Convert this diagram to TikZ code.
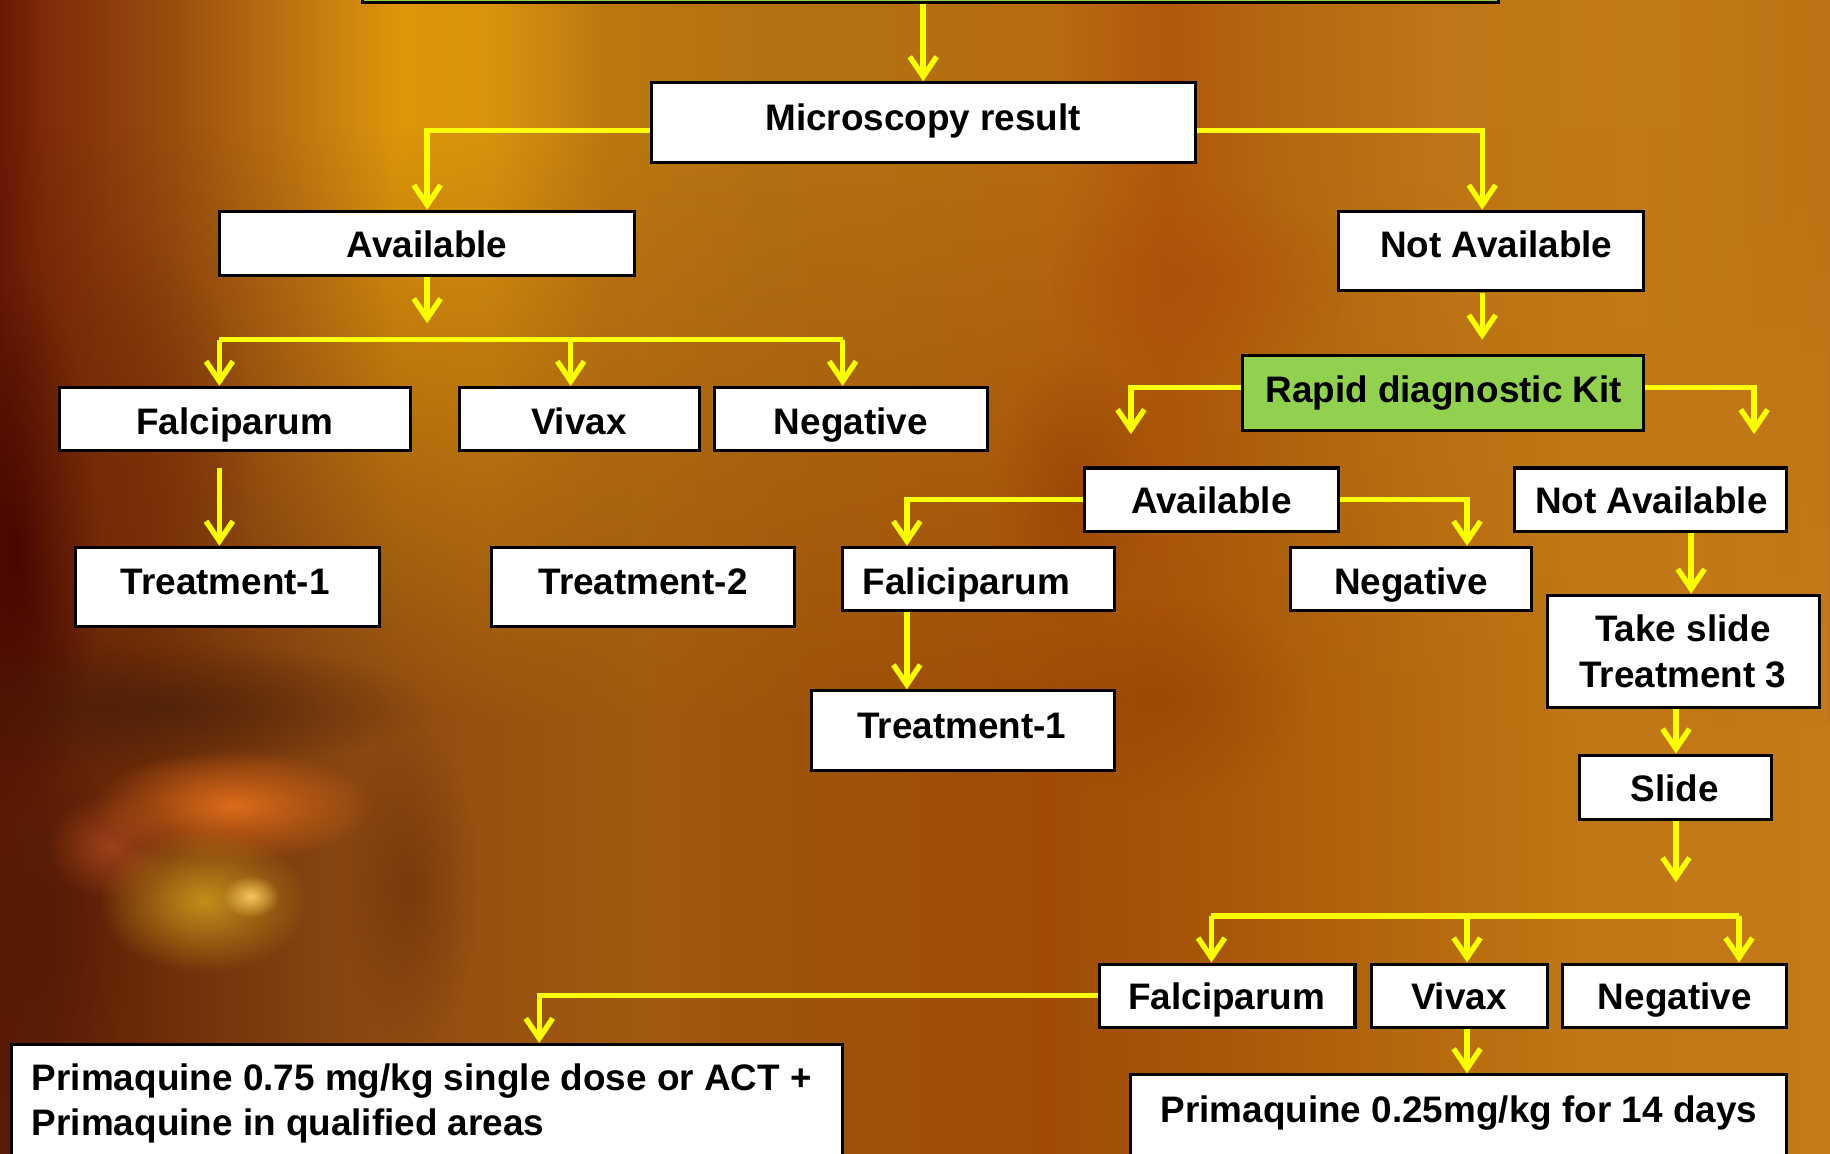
\documentclass[tikz,border=0pt]{standalone}
\usepackage{fontspec}
\setmainfont{Liberation Sans}
\usetikzlibrary{arrows.meta,calc,fit,fadings}
\definecolor{ay}{HTML}{FFFF00}
\definecolor{kgreen}{HTML}{92D050}
% upper background colours
\definecolor{c0}{HTML}{6A1804}
\definecolor{c1}{HTML}{7E2C08}
\definecolor{c2}{HTML}{9A4E0E}
\definecolor{c3}{HTML}{C07810}
\definecolor{c4}{HTML}{DC960A}
\definecolor{c5}{HTML}{D8940C}
\definecolor{c6}{HTML}{BC7810}
\definecolor{c7}{HTML}{B47212}
\definecolor{c8}{HTML}{B47010}
\definecolor{c9}{HTML}{B86C10}
\definecolor{c10}{HTML}{B0580C}
\definecolor{c11}{HTML}{B46A10}
\definecolor{c12}{HTML}{BE7616}
\definecolor{c13}{HTML}{C07A16}
\definecolor{c14}{HTML}{BC7414}
% lower background colours
\definecolor{d0}{HTML}{5A1A05}
\definecolor{d1}{HTML}{6A2A08}
\definecolor{d2}{HTML}{864410}
\definecolor{d3}{HTML}{965010}
\definecolor{d4}{HTML}{A05A0E}
\definecolor{d5}{HTML}{9E520A}
\definecolor{d6}{HTML}{A04C08}
\definecolor{d7}{HTML}{A85808}
\definecolor{d8}{HTML}{B4680C}
\definecolor{d9}{HTML}{C07614}
\definecolor{d10}{HTML}{C47A18}
\pgfdeclarehorizontalshading{upbg}{100bp}{color(0bp)=(c0); color(25bp)=(c0); color(26.28bp)=(c1); color(29.78bp)=(c2); color(33.29bp)=(c3); color(35.84bp)=(c4); color(38.39bp)=(c5); color(41.58bp)=(c6); color(45.73bp)=(c7); color(50.51bp)=(c8); color(53.70bp)=(c9); color(56.89bp)=(c10); color(60.08bp)=(c11); color(64.22bp)=(c12); color(69.64bp)=(c13); color(75bp)=(c14); color(100bp)=(c14)}
\pgfdeclarehorizontalshading{lowbg}{100bp}{color(0bp)=(d0); color(25bp)=(d0); color(28.83bp)=(d1); color(33.93bp)=(d2); color(37.76bp)=(d3); color(42.54bp)=(d4); color(47.32bp)=(d5); color(53.70bp)=(d6); color(58.48bp)=(d7); color(63.27bp)=(d8); color(68.05bp)=(d9); color(75bp)=(d10); color(100bp)=(d10)}
\tikzfading[name=softblob, inner color=transparent!0, outer color=transparent!100]
\tikzfading[name=fadedown, top color=transparent!100, bottom color=transparent!0]
\tikzset{
  box/.style={draw=black, line width=1.3pt, fill=white, inner sep=0pt, rectangle},
  gbox/.style={box, fill=kgreen},
  lbl/.style={font=\bfseries\fontsize{15.8}{19.5}\selectfont, inner sep=0pt, anchor=base},
  lblw/.style={lbl, anchor=base west},
  arr/.style={draw=ay, line width=2.3pt, -{Straight Barb[length=8.5pt,width=11.5pt]}},
  bar/.style={draw=ay, line width=2.3pt},
  blob/.style={path fading=softblob, draw=none}
}
\begin{document}
\begin{tikzpicture}[x=0.5pt,y=-0.5pt]
\useasboundingbox (0,0) rectangle (1568,988);
\clip (0,0) rectangle (1568,988);
% ---------- background ----------
\shade[shading=upbg] (0,0) rectangle (1568,988);
\shade[shading=lowbg, path fading=fadedown] (0,110) rectangle (1568,620);
\shade[shading=lowbg] (0,619) rectangle (1568,988);
% ---------- background: blotches ----------
\fill[blob, color={rgb,255:red,64;green,0;blue,0}, opacity=0.8] (15,470) ellipse (70 and 230);
\fill[blob, color={rgb,255:red,122;green,42;blue,5}, opacity=0.6] (110,400) ellipse (110 and 190);
\fill[blob, color={rgb,255:red,70;green,30;blue,8}, opacity=0.7] (130,605) ellipse (240 and 55);
\fill[blob, color={rgb,255:red,100;green,40;blue,8}, opacity=0.5] (350,760) ellipse (60 and 140);
\fill[blob, color={rgb,255:red,80;green,25;blue,5}, opacity=0.6] (40,800) ellipse (70 and 160);
\fill[blob, color={rgb,255:red,176;green,74;blue,32}, opacity=0.75] (95,725) ellipse (55 and 45);
\fill[blob, color={rgb,255:red,226;green,110;blue,26}, opacity=0.95] (200,690) ellipse (120 and 48);
\fill[blob, color={rgb,255:red,204;green,152;blue,28}, opacity=0.9] (175,772) ellipse (90 and 62);
\fill[blob, color={rgb,255:red,255;green,210;blue,100}, opacity=0.9] (215,768) ellipse (24 and 18);
\fill[blob, color={rgb,255:red,176;green,74;blue,10}, opacity=0.5] (1030,240) ellipse (130 and 80);
\fill[blob, color={rgb,255:red,144;green,58;blue,5}, opacity=0.5] (920,420) ellipse (70 and 120);
\fill[blob, color={rgb,255:red,144;green,58;blue,5}, opacity=0.4] (1000,600) ellipse (120 and 90);
% ---------- boxes ----------
\node[gbox, fit={(311,-30) (1284,2)}] (top) {};
\node[box, fit={(558,71) (1024,139)}] (micro) {};
\node[box, fit={(188,181) (544,236)}] (avail) {};
\node[box, fit={(1147,181) (1408,249)}] (navl) {};
\node[box, fit={(51,332) (352,386)}] (falc) {};
\node[box, fit={(394,332) (599,386)}] (viv) {};
\node[box, fit={(612,332) (846,386)}] (neg) {};
\node[box, fit={(65,469) (325,537)}] (tra) {};
\node[box, fit={(421,469) (681,537)}] (trb) {};
\node[gbox, fit={(1065,305) (1408,369)}] (rdk) {};
\node[box, fit={(929,401) (1147,455)}] (avail2) {};
\node[box, fit={(1298,401) (1531,455)}] (navl2) {};
\node[box, fit={(722,469) (955,523)}] (falc2) {};
\node[box, fit={(1106,469) (1312,523)}] (neg2) {};
\node[box, fit={(695,592) (955,660)}] (tra2) {};
\node[box, fit={(1326,510) (1559,606)}] (take) {};
\node[box, fit={(1353,647) (1518,702)}] (slide) {};
\node[box, fit={(942,826) (1161,880)}] (falc3) {};
\node[box, fit={(1175,826) (1326,880)}] (viv3) {};
\node[box, fit={(1339,826) (1531,880)}] (neg3) {};
\node[box, fit={(10,895) (722,1010)}] (pq1) {};
\node[box, fit={(969,921) (1531,1010)}] (pq2) {};
% ---------- texts ----------
\node[lbl] (micro-t) at (791,112) {Microscopy result};
\node[lbl] (avail-t) at (366,221) {Available};
\node[lbl] (navl-t) at (1282,221) {Not Available};
\node[lbl] (falc-t) at (201,372) {Falciparum};
\node[lbl] (viv-t) at (496,372) {Vivax};
\node[lbl] (neg-t) at (729,372) {Negative};
\node[lbl] (tra-t) at (193,509) {Treatment-1};
\node[lbl] (trb-t) at (551,509) {Treatment-2};
\node[lbl] (rdk-t) at (1237,345) {Rapid diagnostic Kit};
\node[lbl] (avail2-t) at (1038,440) {Available};
\node[lbl] (navl2-t) at (1415,440) {Not Available};
\node[lbl] (falc2-t) at (828,509) {Faliciparum};
\node[lbl] (neg2-t) at (1209,509) {Negative};
\node[lbl] (tra2-t) at (824,633) {Treatment-1};
\node[lbl] (take-t1) at (1442,550) {Take slide};
\node[lbl] (take-t2) at (1442,589) {Treatment 3};
\node[lbl] (slide-t) at (1435,687) {Slide};
\node[lbl] (falc3-t) at (1051,865) {Falciparum};
\node[lbl] (viv3-t) at (1250,865) {Vivax};
\node[lbl] (neg3-t) at (1435,865) {Negative};
\node[lblw] (pq1-t1) at (27,934) {Primaquine 0.75 mg/kg single dose or ACT +};
\node[lblw] (pq1-t2) at (27,973) {Primaquine in qualified areas};
\node[lbl] (pq2-t) at (1250,962) {Primaquine 0.25mg/kg for 14 days};
% ---------- connectors ----------
\coordinate (j1) at (366,277);
\coordinate (j2) at (1270,291);
\coordinate (j3) at (969,372);
\coordinate (j4) at (1503,372);
\coordinate (j5) at (1436,756);
\coordinate (bL) at (188,291);
\coordinate (bM) at (489,291);
\coordinate (bR) at (722,291);
\coordinate (cL) at (1038,785);
\coordinate (cM) at (1257,785);
\coordinate (cR) at (1490,785);
\draw[arr] (micro.north |- top.south) -- (micro.north);
\draw[arr] ($(micro.west)+(0,7)$) -| (avail.north);
\draw[arr] ($(micro.east)+(0,7)$) -| ($(navl.north)+(-7.5,0)$);
\draw[arr] (avail.south) -- (j1);
\draw[bar] (bL) -- (bR);
\draw[arr] (bL) -- (bL |- falc.north);
\draw[arr] (bM) -- (bM |- viv.north);
\draw[arr] (bR) -- (bR |- neg.north);
\draw[arr] ($(falc.south)+(-13.5,14)$) -- ($(tra.north)+(-7,0)$);
\draw[arr] ($(navl.south)+(-7.5,1)$) -- (j2);
\draw[arr] ($(rdk.west)+(0,-5)$) -| (j3);
\draw[arr] ($(rdk.east)+(0,-5)$) -| (j4);
\draw[arr] (avail2.west) -| ($(falc2.north)+(-61.5,0)$);
\draw[arr] (avail2.east) -| ($(neg2.north)+(48,0)$);
\draw[arr] ($(falc2.south)+(-61.5,0)$) -- ($(tra2.north)+(-48,0)$);
\draw[arr] ($(navl2.south)+(34.5,0)$) -- ($(take.north)+(6.5,0)$);
\draw[arr] ($(take.south)+(-6.5,0)$) -- ($(slide.north)+(0.5,0)$);
\draw[arr] ($(slide.south)+(0.5,0)$) -- (j5);
\draw[bar] (cL) -- (cR);
\draw[arr] (cL) -- (cL |- falc3.north);
\draw[arr] (cM) -- (cM |- viv3.north);
\draw[arr] (cR) -- (cR |- neg3.north);
\draw[arr] (falc3.west) -| ($(pq1.north)+(96,0)$);
\draw[arr] ($(viv3.south)+(6.5,0)$) -- ($(pq2.north)+(7,0)$);
\end{tikzpicture}
\end{document}
